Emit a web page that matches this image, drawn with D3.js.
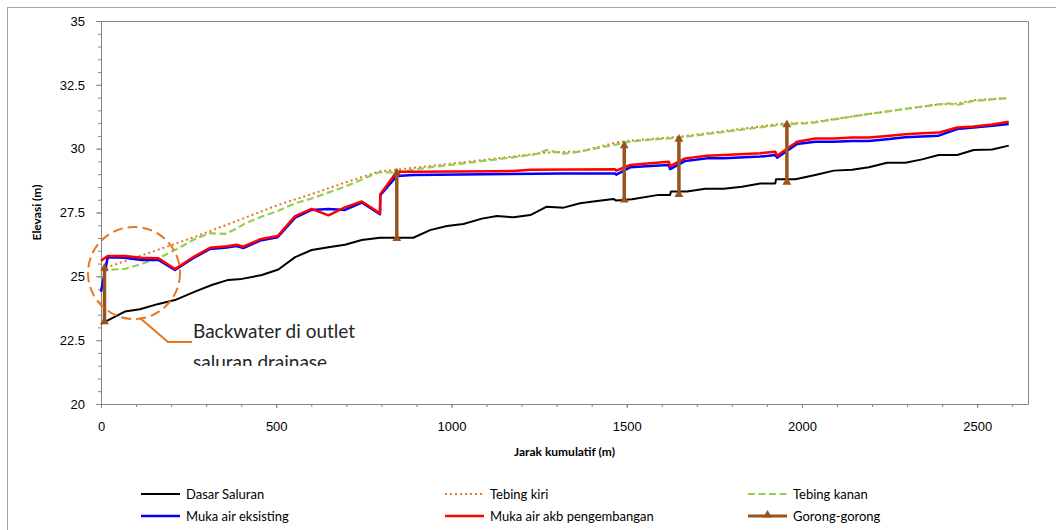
<!DOCTYPE html>
<html><head><meta charset="utf-8">
<script src="https://cdn.jsdelivr.net/npm/d3@7"></script>
<style>
html,body{margin:0;padding:0;background:#fff;}
svg{display:block;font-family:Lato, "Open Sans", sans-serif;}
</style></head>
<body><svg id="c" width="1056" height="530"></svg>
<script>
// ---- data ----
const dasarSaluran = [[0,23.14],[68,23.62],[111,23.71],[164,23.92],[211,24.07],[268,24.40],[316,24.66],[363,24.86],[402,24.90],[459,25.05],[506,25.27],[554,25.75],[601,26.03],[649,26.14],[696,26.24],[744,26.42],[796,26.51],[891,26.51],[939,26.81],[987,26.97],[1034,27.05],[1087,27.26],[1130,27.36],[1177,27.31],[1225,27.40],[1272,27.73],[1320,27.69],[1367,27.86],[1410,27.94],[1462,28.03],[1470,27.97],[1515,28.02],[1591,28.19],[1624,28.19],[1626,28.32],[1672,28.32],[1724,28.43],[1777,28.43],[1829,28.51],[1881,28.64],[1924,28.64],[1926,28.80],[1981,28.80],[2038,28.97],[2091,29.14],[2143,29.17],[2191,29.27],[2243,29.45],[2295,29.45],[2343,29.58],[2390,29.75],[2443,29.75],[2490,29.95],[2543,29.97],[2590,30.12]];
const tebingKiri = [[0,25.27],[211,26.27],[268,26.55],[382,27.14],[506,27.80],[601,28.22],[696,28.67],[792,29.10],[939,29.32],[1130,29.62],[1272,29.85],[1367,29.89],[1472,30.25],[1515,30.32],[1653,30.47],[1948,30.99],[2024,31.02],[2186,31.35],[2376,31.71],[2443,31.77],[2490,31.90],[2590,31.98]];
const tebingKanan = [[0,25.24],[68,25.29],[121,25.51],[164,25.71],[211,26.03],[268,26.46],[311,26.69],[354,26.66],[382,26.84],[411,27.07],[459,27.34],[506,27.57],[554,27.86],[601,28.05],[696,28.51],[792,29.07],[839,29.07],[939,29.27],[1130,29.58],[1240,29.78],[1272,29.95],[1320,29.80],[1367,29.89],[1462,30.14],[1515,30.29],[1653,30.44],[1948,30.95],[2024,31.00],[2186,31.35],[2376,31.71],[2415,31.78],[2443,31.71],[2490,31.87],[2590,31.98]];
const mukaAirEksisting = [[0,24.40],[19,25.75],[68,25.73],[116,25.64],[164,25.64],[211,25.25],[263,25.71],[311,26.07],[359,26.13],[387,26.19],[406,26.11],[454,26.40],[504,26.53],[554,27.30],[601,27.60],[649,27.64],[696,27.60],[744,27.89],[796,27.43],[797,28.18],[844,28.93],[891,28.97],[1320,29.03],[1467,29.03],[1470,28.98],[1510,29.27],[1567,29.32],[1620,29.36],[1624,29.20],[1667,29.52],[1729,29.62],[1777,29.62],[1881,29.69],[1924,29.75],[1929,29.65],[1986,30.18],[2038,30.27],[2091,30.27],[2143,30.30],[2191,30.30],[2243,30.37],[2295,30.45],[2343,30.48],[2390,30.51],[2443,30.77],[2490,30.83],[2543,30.90],[2590,30.97]];
const mukaAirAkb = [[0,25.61],[19,25.80],[68,25.80],[116,25.73],[164,25.71],[211,25.29],[263,25.75],[311,26.12],[359,26.18],[387,26.24],[406,26.16],[454,26.45],[504,26.58],[554,27.36],[601,27.64],[649,27.39],[696,27.70],[744,27.93],[796,27.47],[797,28.22],[844,29.10],[891,29.10],[1130,29.12],[1177,29.13],[1225,29.17],[1467,29.19],[1470,29.14],[1510,29.36],[1567,29.43],[1620,29.49],[1624,29.32],[1667,29.62],[1729,29.72],[1777,29.75],[1881,29.82],[1924,29.88],[1929,29.72],[1986,30.27],[2038,30.40],[2091,30.40],[2143,30.44],[2191,30.44],[2243,30.50],[2295,30.56],[2343,30.60],[2390,30.63],[2443,30.83],[2490,30.87],[2543,30.95],[2590,31.05]];
const gorongJarak = [10, 844, 1493, 1649, 1957];
const gorongBawah = [23.22, 26.48, 27.99, 28.21, 28.69];
const gorongAtas = [25.32, 29.05, 30.12, 30.37, 30.94];
const yTicks = [20, 22.5, 25, 27.5, 30, 32.5, 35];
const xTicks = [0, 500, 1000, 1500, 2000, 2500];
const legendItems = ["Dasar Saluran","Tebing kiri","Tebing kanan","Muka air eksisting","Muka air akb pengembangan","Gorong-gorong"];
const calloutLines = ["Backwater di outlet","saluran drainase"];

// ---- layout ----
const svg = d3.select("#c");
const L = 101, R = 1028, T = 21, B = 404;
const x = d3.scaleLinear().domain([0, 2645]).range([L, R]);
const y = d3.scaleLinear().domain([20, 35]).range([B, T]);
const axisCol = "#868686";
const brown = "#99531C";

// outer chart frame
svg.append("rect").attr("x",7.5).attr("y",7.5).attr("width",1100).attr("height",600)
  .attr("fill","none").attr("stroke","#a6a6a6").attr("stroke-width",1);

// plot area border (top & right)
svg.append("path").attr("d",`M${L},${T+0.5}H${R+0.5}V${B}`).attr("fill","none").attr("stroke",axisCol).attr("stroke-width",1);

// axes
function styleAxis(g){ g.selectAll("path,line").attr("stroke",axisCol); g.selectAll("text").attr("fill","#000").attr("font-size","13px"); }
svg.append("g").attr("transform",`translate(${L},0)`)
  .call(d3.axisLeft(y).tickValues(d3.range(20,35.01,0.5)).tickSize(3).tickSizeOuter(0).tickFormat(""))
  .call(styleAxis);
svg.append("g").attr("transform",`translate(${L},0)`)
  .call(d3.axisLeft(y).tickValues(yTicks).tickSize(5).tickSizeOuter(0).tickPadding(11).tickFormat(d=>String(d)))
  .call(styleAxis);
svg.append("g").attr("transform",`translate(0,${B})`)
  .call(d3.axisBottom(x).tickValues(d3.range(0,2601,100)).tickSize(3).tickSizeOuter(0).tickFormat(""))
  .call(styleAxis);
svg.append("g").attr("transform",`translate(0,${B})`)
  .call(d3.axisBottom(x).tickValues(xTicks).tickSize(4).tickSizeOuter(0).tickPadding(14).tickFormat(d=>String(d)))
  .call(styleAxis);

// axis titles
svg.append("text").attr("x",(L+R)/2).attr("y",456).attr("text-anchor","middle")
  .attr("font-size","12px").attr("font-weight","bold").text("Jarak kumulatif (m)");
svg.append("text").attr("transform",`translate(41,${(T+B)/2}) rotate(-90)`).attr("text-anchor","middle")
  .attr("font-size","12px").attr("font-weight","bold").text("Elevasi (m)");

// series
const line = d3.line().x(d=>x(d[0])).y(d=>y(d[1]));
const series = [
  {data:dasarSaluran, color:"#000", w:2, dash:null},
  {data:tebingKiri, color:"#E8761C", w:2, dash:"2,3"},
  {data:tebingKanan, color:"#92D050", w:2.2, dash:"7,3.5"},
  {data:mukaAirEksisting, color:"#0000FF", w:2.5, dash:null},
  {data:mukaAirAkb, color:"#FF0000", w:2.5, dash:null}
];
series.forEach(s=>{
  svg.append("path").datum(s.data).attr("d",line).attr("fill","none")
    .attr("stroke",s.color).attr("stroke-width",s.w).attr("stroke-linejoin","round")
    .attr("stroke-dasharray",s.dash);
});

// culverts (Gorong-gorong)
const tri = d3.symbol().type(d3.symbolTriangle).size(34);
gorongJarak.forEach((j,i)=>{
  const pts = [[j,gorongBawah[i]],[j,gorongAtas[i]]];
  svg.append("path").datum(pts).attr("d",line).attr("stroke",brown).attr("stroke-width",3.5).attr("fill","none");
  pts.forEach(p=>{
    svg.append("path").attr("d",tri).attr("transform",`translate(${x(p[0])},${y(p[1])})`).attr("fill",brown);
  });
});

// callout
svg.append("circle").attr("cx",134).attr("cy",273).attr("r",46)
  .attr("fill","none").attr("stroke","#E8761C").attr("stroke-width",2).attr("stroke-dasharray","10,5");
svg.append("path").attr("d","M140,318L168,342H192").attr("fill","none").attr("stroke","#E8761C").attr("stroke-width",2);
svg.append("clipPath").attr("id","clipTxt").append("rect").attr("x",180).attr("y",310).attr("width",300).attr("height",56);
const ct = svg.append("g").attr("clip-path","url(#clipTxt)");
calloutLines.forEach((t,i)=>{
  ct.append("text").attr("x",193).attr("y",338+i*31).attr("font-size","19px").attr("fill","#262626").text(t);
});

// legend
const legX = [141, 445, 748], legY = [494, 516];
legendItems.forEach((name,i)=>{
  const col = i%3, row = Math.floor(i/3);
  const lx = legX[col], ly = legY[row];
  const s = i<3 ? series[i] : (i<5 ? series[i] : null);
  const g = svg.append("g");
  if (s) {
    g.append("line").attr("x1",lx).attr("x2",lx+39).attr("y1",ly).attr("y2",ly)
      .attr("stroke",s.color).attr("stroke-width",s.w).attr("stroke-dasharray",s.dash);
  } else {
    g.append("line").attr("x1",lx).attr("x2",lx+39).attr("y1",ly).attr("y2",ly).attr("stroke",brown).attr("stroke-width",3);
    g.append("path").attr("d",tri).attr("transform",`translate(${lx+19.5},${ly-1})`).attr("fill",brown);
  }
  g.append("text").attr("x",lx+45).attr("y",ly+4.5).attr("font-size","13px").attr("fill","#000").text(name);
});
</script></body></html>
